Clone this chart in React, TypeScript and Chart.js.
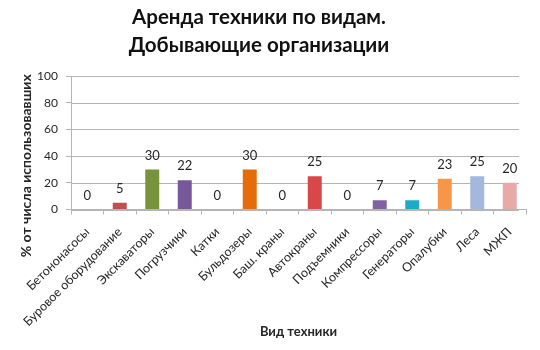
import React, { useEffect, useRef } from "react";
import { Chart, registerables } from "chart.js";

Chart.register(...registerables);

const titleLines = ["Аренда техники по видам.", "Добывающие организации"];
const yAxisTitle = "% от числа использовавших";
const xAxisTitle = "Вид техники";

const categories = [
  "Бетононасосы",
  "Буровое оборудование",
  "Экскаваторы",
  "Погрузчики",
  "Катки",
  "Бульдозеры",
  "Баш. краны",
  "Автокраны",
  "Подъемники",
  "Компрессоры",
  "Генераторы",
  "Опалубки",
  "Леса",
  "МЖП",
];

const values = [0, 5, 30, 22, 0, 30, 0, 25, 0, 7, 7, 23, 25, 20];

const barColors = [
  "#4F81BD",
  "#C0504D",
  "#77933C",
  "#77599B",
  "#4BACC6",
  "#E46C0A",
  "#9BBB59",
  "#D94848",
  "#F79646",
  "#8064A2",
  "#1FA9C6",
  "#F79646",
  "#A3B8DC",
  "#E8A9A9",
];

const yMin = 0;
const yMax = 100;
const yStep = 10;

const FONT = "Lato, 'Open Sans', sans-serif";
const GRID = "#B5B5B5";
const TEXT = "#262626";

const decorPlugin = {
  id: "decor",
  beforeDatasetsDraw(chart: any) {
    const { ctx, chartArea } = chart;
    const ys = chart.scales.y;
    ctx.save();
    ctx.strokeStyle = GRID;
    ctx.lineWidth = 1;
    ys.ticks.forEach((t: any) => {
      const py = Math.round(ys.getPixelForValue(t.value)) + 0.5;
      ctx.beginPath();
      ctx.moveTo(chartArea.left, py);
      ctx.lineTo(chartArea.right - 7, py);
      ctx.stroke();
    });
    ctx.restore();
  },
  afterDatasetsDraw(chart: any) {
    const { ctx } = chart;
    const meta = chart.getDatasetMeta(0);
    const data = chart.data.datasets[0].data;
    ctx.save();
    ctx.fillStyle = TEXT;
    ctx.font = `13px ${FONT}`;
    ctx.textAlign = "center";
    ctx.textBaseline = "middle";
    meta.data.forEach((el: any, i: number) => {
      ctx.fillText(String(data[i]), el.x, el.y - 14);
    });
    ctx.restore();
  },
  afterDraw(chart: any) {
    const { ctx, chartArea } = chart;
    ctx.save();
    ctx.fillStyle = "#111";
    ctx.textAlign = "center";
    ctx.textBaseline = "middle";
    ctx.font = `bold 20.5px ${FONT}`;
    ctx.fillText(titleLines[0], 259, 17);
    ctx.fillText(titleLines[1], 259, 45);

    ctx.font = `bold 13px ${FONT}`;
    ctx.fillStyle = TEXT;
    ctx.fillText(xAxisTitle, (chartArea.left + chartArea.right) / 2, 332);

    ctx.font = `bold 14px ${FONT}`;
    ctx.translate(26, (chartArea.top + chartArea.bottom) / 2 + 23);
    ctx.rotate(-Math.PI / 2);
    ctx.fillText(yAxisTitle, 0, 0);
    ctx.restore();
  },
};

export default function App() {
  const ref = useRef<HTMLCanvasElement | null>(null);

  useEffect(() => {
    if (!ref.current) return;
    const chart = new Chart(ref.current, {
      type: "bar",
      data: {
        labels: categories,
        datasets: [
          {
            data: values,
            backgroundColor: barColors,
            borderWidth: 0,
            barPercentage: 0.43,
            categoryPercentage: 1,
          },
        ],
      },
      options: {
        responsive: false,
        animation: false,
        layout: { padding: { top: 76, right: 14, bottom: 0, left: 0 } },
        plugins: {
          legend: { display: false },
          title: { display: false },
          tooltip: { enabled: false },
        },
        scales: {
          x: {
            grid: {
              display: true,
              drawOnChartArea: false,
              drawTicks: true,
              tickLength: 5,
              color: GRID,
              offset: true,
            },
            border: { display: true, color: GRID },
            ticks: {
              autoSkip: false,
              minRotation: 45,
              maxRotation: 45,
              padding: 10,
              color: TEXT,
              font: { family: FONT, size: 12.5 },
            },
            afterFit(scale: any) {
              scale.height = 140.5;
            },
          },
          y: {
            min: yMin,
            max: yMax,
            ticks: {
              stepSize: yStep,
              padding: 8,
              color: TEXT,
              font: { family: FONT, size: 12 },
            },
            grid: {
              display: true,
              drawOnChartArea: false,
              drawTicks: true,
              tickLength: 5,
              color: GRID,
            },
            border: { display: true, color: GRID },
            afterFit(scale: any) {
              scale.width = 71;
            },
          },
        },
      },
      plugins: [decorPlugin],
    });
    return () => chart.destroy();
  }, []);

  return (
    <div style={{ position: "fixed", left: 0, top: 0, width: 540, height: 350, background: "#fff" }}>
      <canvas ref={ref} width={540} height={350} style={{ display: "block" }} />
    </div>
  );
}
